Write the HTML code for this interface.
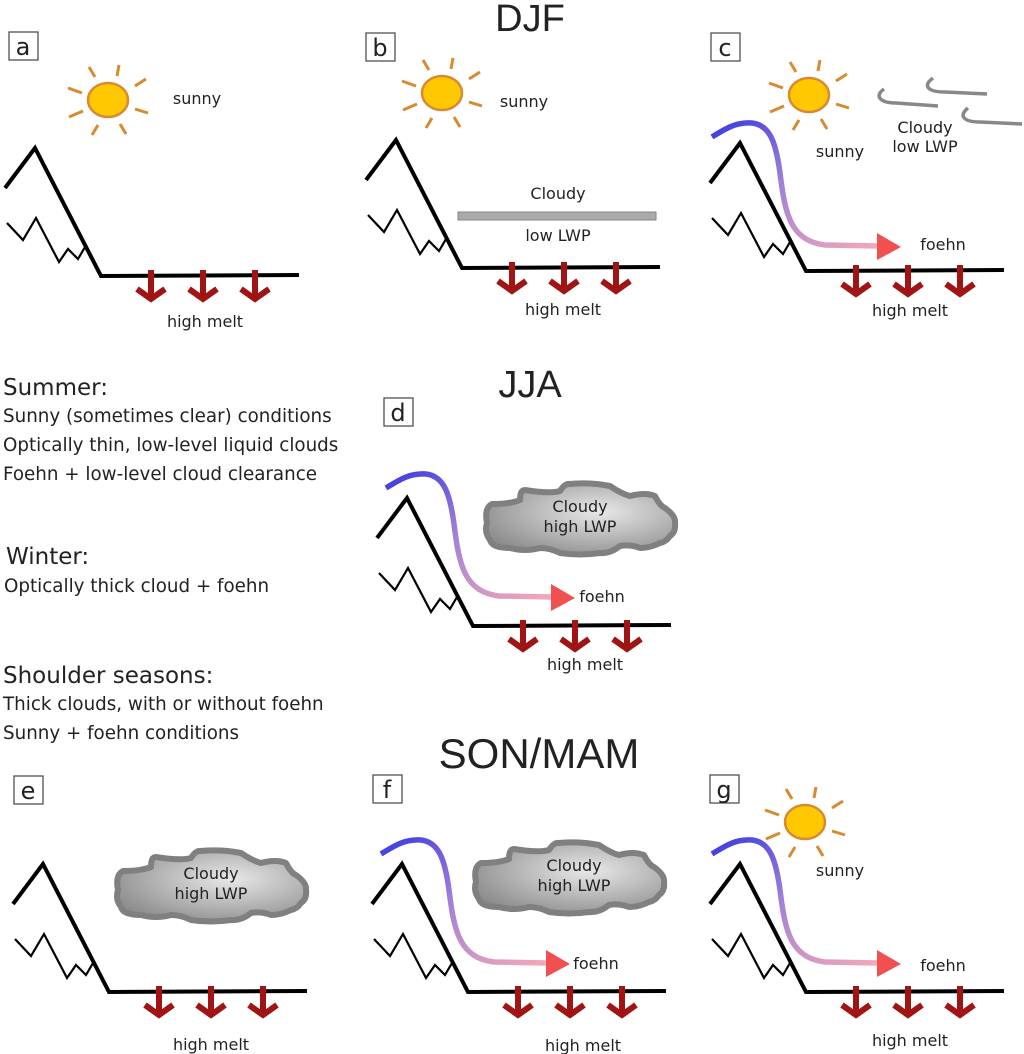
<!DOCTYPE html>
<html><head><meta charset="utf-8"><style>
body{margin:0;background:#fff;}
svg{display:block;font-family:"DejaVu Sans","Liberation Sans",sans-serif;}
</style></head><body>
<svg width="1024" height="1054" viewBox="0 0 1024 1054" xmlns="http://www.w3.org/2000/svg">
<defs>
<g id="mtn">
<polyline points="-30,40 0,0 66,128 264,127" fill="none" stroke="#000" stroke-width="4"/>
<polyline points="-28,75 -12,92 1,70 24,114 33,101 43,111 50,99" fill="none" stroke="#000" stroke-width="2.2"/>
<g stroke="#a01414" stroke-width="6" fill="none">
<line x1="116" y1="122" x2="116" y2="150"/><polyline points="102,141 116,151 130,141"/>
<line x1="168" y1="122" x2="168" y2="150"/><polyline points="154,141 168,151 182,141"/>
<line x1="220" y1="122" x2="220" y2="150"/><polyline points="206,141 220,151 234,141"/>
</g>
</g>
<linearGradient id="fg" x1="0" y1="0" x2="1" y2="1">
<stop offset="0" stop-color="#3a3ae0"/><stop offset="0.45" stop-color="#a080d8"/><stop offset="1" stop-color="#f4a8b8"/>
</linearGradient>
<g id="foehn">
<path d="M-28,-6 C-15,-14 -5,-21 12,-20 C30,-18 36,0 40,30 C45,70 50,98 85,102 L138,103" fill="none" stroke="url(#fg)" stroke-width="5.5"/>
<polygon points="137,90 161,104 137,117" fill="#f05050"/>
</g>
<g id="sun">
<ellipse cx="0" cy="0" rx="20" ry="17" fill="#ffc800" stroke="#d88a30" stroke-width="2.5"/>
<g stroke="#d88a30" stroke-width="3">
<line x1="27" y1="-14" x2="38" y2="-21"/><line x1="9" y1="-24" x2="11" y2="-35"/>
<line x1="-13" y1="-23" x2="-19" y2="-33"/><line x1="-26" y1="-7" x2="-40" y2="-12"/>
<line x1="-25" y1="11" x2="-39" y2="17"/><line x1="-10" y1="25" x2="-16" y2="35"/>
<line x1="12" y1="24" x2="18" y2="34"/><line x1="27" y1="9" x2="40" y2="13"/>
</g>
</g>
<radialGradient id="cg" cx="0.6" cy="0.4" r="0.7">
<stop offset="0" stop-color="#e8e8e8"/><stop offset="1" stop-color="#8a8a8a"/>
</radialGradient>
<g id="cloud">
<path d="M-93,5 Q-96,-10 -88,-14 Q-70,-14 -60,-18 Q-60,-28 -55,-28 Q-30,-24 -20,-27 Q-15,-35 -10,-34 Q10,-36 30,-32 Q42,-24 50,-22 Q65,-26 75,-22 Q80,-12 85,-10 Q96,-2 95,5 Q96,14 90,18 Q86,24 80,25 Q70,30 60,30 Q50,26 40,28 Q30,36 20,35 Q0,38 -20,35 Q-30,30 -40,30 Q-55,34 -70,30 Q-88,30 -90,22 Q-96,14 -93,5 Z" fill="url(#cg)" stroke="#808080" stroke-width="6" stroke-linejoin="round"/>
</g>
</defs>

<g font-size="38" fill="#222" text-anchor="middle" font-family="Liberation Sans, sans-serif">
<text x="530" y="31">DJF</text>
<text x="530" y="397">JJA</text>
<text x="539" y="768" font-size="42">SON/MAM</text>
</g>

<g fill="#fff" stroke="#444" stroke-width="1.2">
<rect x="9" y="32" width="29" height="28"/><rect x="366" y="33" width="29" height="28"/>
<rect x="711" y="33" width="29" height="28"/><rect x="384" y="398" width="29" height="28"/>
<rect x="14" y="776" width="29" height="28"/><rect x="373" y="775" width="29" height="28"/>
<rect x="710" y="775" width="29" height="28"/>
</g>
<g font-size="24" fill="#222" text-anchor="middle">
<text x="23" y="55">a</text><text x="380" y="56">b</text><text x="725" y="56">c</text>
<text x="398" y="421">d</text><text x="28" y="799">e</text><text x="387" y="798">f</text><text x="724" y="798">g</text>
</g>

<use href="#mtn" x="35" y="148"/>
<use href="#mtn" x="396" y="140"/>
<use href="#mtn" x="740" y="143"/>
<use href="#mtn" x="407" y="498"/>
<use href="#mtn" x="43" y="864"/>
<use href="#mtn" x="402" y="864"/>
<use href="#mtn" x="740" y="864"/>

<use href="#foehn" x="740" y="143"/>
<use href="#foehn" x="414" y="494"/>
<use href="#foehn" x="409" y="860"/>
<use href="#foehn" x="740" y="860"/>

<use href="#sun" x="108" y="100"/>
<use href="#sun" x="442" y="93"/>
<use href="#sun" x="809" y="95"/>
<use href="#sun" x="805" y="822"/>

<use href="#cloud" x="580" y="518"/>
<use href="#cloud" x="211" y="885"/>
<use href="#cloud" x="569" y="877"/>

<rect x="458" y="212" width="198" height="8" fill="#aaa" stroke="#888" stroke-width="1"/>
<g fill="none" stroke="#888" stroke-width="3.5">
<path d="M884,89 C874,96 880,103 896,103 L938,106"/>
<path d="M933,78 C922,86 928,92 945,92 L987,94"/>
<path d="M968,108 C958,116 964,122 980,122 L1022,124"/>
</g>

<g font-size="16" fill="#222" text-anchor="middle">
<text x="197" y="104">sunny</text>
<text x="524" y="107">sunny</text>
<text x="840" y="157">sunny</text>
<text x="840" y="876">sunny</text>
<text x="558" y="199">Cloudy</text>
<text x="558" y="241">low LWP</text>
<text x="925" y="133">Cloudy</text>
<text x="925" y="152">low LWP</text>
<text x="580" y="512">Cloudy</text><text x="580" y="532">high LWP</text>
<text x="211" y="879">Cloudy</text><text x="211" y="899">high LWP</text>
<text x="574" y="871">Cloudy</text><text x="574" y="891">high LWP</text>
<text x="205" y="327">high melt</text>
<text x="563" y="315">high melt</text>
<text x="910" y="316">high melt</text>
<text x="585" y="670">high melt</text>
<text x="211" y="1050">high melt</text>
<text x="583" y="1051">high melt</text>
<text x="910" y="1046">high melt</text>
<text x="943" y="250">foehn</text>
<text x="602" y="602">foehn</text>
<text x="596" y="969">foehn</text>
<text x="943" y="971">foehn</text>
</g>

<g fill="#222" font-size="18.3">
<text x="3" y="395" font-size="23">Summer:</text>
<text x="3" y="422">Sunny (sometimes clear) conditions</text>
<text x="3" y="451">Optically thin, low-level liquid clouds</text>
<text x="3" y="480">Foehn + low-level cloud clearance</text>
<text x="6" y="564" font-size="23">Winter:</text>
<text x="4" y="592">Optically thick cloud + foehn</text>
<text x="3" y="683" font-size="23">Shoulder seasons:</text>
<text x="3" y="710">Thick clouds, with or without foehn</text>
<text x="3" y="739">Sunny + foehn conditions</text>
</g>
</svg>
</body></html>
